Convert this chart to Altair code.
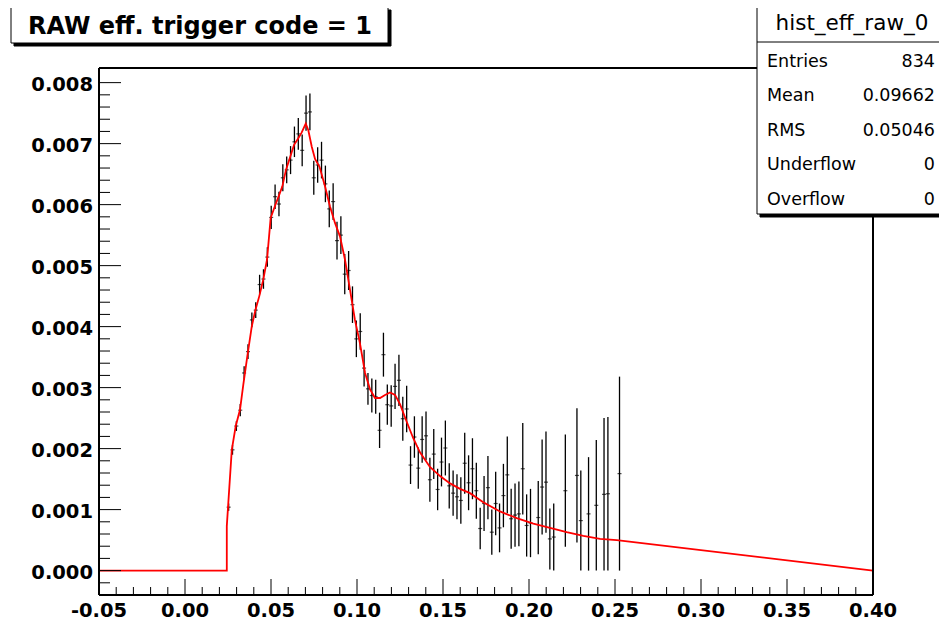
import altair as alt
import pandas as pd

# ---------------- data ----------------
bin_x = [0.025375, 0.027625, 0.029875, 0.032125, 0.034375, 0.036625, 0.038875, 0.041125,
         0.043375, 0.045625, 0.047875, 0.050125, 0.052375, 0.054625, 0.056875, 0.059125,
         0.061375, 0.063625, 0.065875, 0.068125, 0.070375, 0.072625, 0.074875, 0.077125,
         0.079375, 0.081625, 0.083875, 0.086125, 0.088375, 0.090625, 0.092875, 0.095125,
         0.097375, 0.099625, 0.101875, 0.104125, 0.106375, 0.108625, 0.110875, 0.113125,
         0.115375, 0.117625, 0.119875, 0.122125, 0.124375, 0.126625, 0.128875, 0.131125,
         0.133375, 0.135625, 0.137875, 0.140125, 0.142375, 0.144625, 0.146875, 0.149125,
         0.151375, 0.153625, 0.155875, 0.158125, 0.160375, 0.162625, 0.164875, 0.167125,
         0.169375, 0.171625, 0.173875, 0.176125, 0.178375, 0.180625, 0.182875, 0.185125,
         0.187375, 0.189625, 0.191875, 0.194125, 0.196375, 0.198625, 0.200875, 0.205375,
         0.207625, 0.209875, 0.212125, 0.214375, 0.221125, 0.227875, 0.230125, 0.234625,
         0.239125, 0.243625, 0.245875, 0.252625]
eff = [0.00104, 0.00198, 0.00237, 0.00263, 0.00324, 0.00359, 0.00411, 0.00427,
       0.00469, 0.00478, 0.00514, 0.00579, 0.00613, 0.00601, 0.00644, 0.00657,
       0.00673, 0.00703, 0.00716, 0.00689, 0.00750, 0.00752, 0.00644, 0.00665,
       0.00673, 0.00634, 0.00593, 0.00605, 0.00541, 0.00550, 0.00486, 0.00492,
       0.00436, 0.00380, 0.00392, 0.00332, 0.00298, 0.00287, 0.00285, 0.00230,
       0.00354, 0.00272, 0.00270, 0.00302, 0.00312, 0.00249, 0.00265, 0.00173,
       0.00219, 0.00168, 0.00215, 0.00221, 0.00149, 0.00191, 0.00133, 0.00178,
       0.00201, 0.00139, 0.00127, 0.00121, 0.00115, 0.00176, 0.00144, 0.00167,
       0.00131, 0.00069, 0.00110, 0.00136, 0.00063, 0.00110, 0.00070, 0.00123,
       0.00157, 0.00085, 0.00091, 0.00093, 0.00167, 0.00074, 0.00078, 0.00087,
       0.00137, 0.00145, 0.00052, 0.00055, 0.00131, 0.00156, 0.00082, 0.00093,
       0.00107, 0.00125, 0.00126, 0.00159]
err = [0.00006, 0.00008, 0.00008, 0.00010, 0.00011, 0.00012, 0.00012, 0.00013,
       0.00016, 0.00016, 0.00016, 0.00019, 0.00020, 0.00020, 0.00022, 0.00022,
       0.00023, 0.00025, 0.00026, 0.00026, 0.00029, 0.00030, 0.00028, 0.00029,
       0.00030, 0.00030, 0.00030, 0.00030, 0.00031, 0.00031, 0.00033, 0.00032,
       0.00030, 0.00030, 0.00030, 0.00030, 0.00026, 0.00028, 0.00028, 0.00029,
       0.00036, 0.00033, 0.00034, 0.00037, 0.00042, 0.00036, 0.00038, 0.00031,
       0.00034, 0.00034, 0.00038, 0.00040, 0.00036, 0.00041, 0.00034, 0.00040,
       0.00045, 0.00037, 0.00037, 0.00037, 0.00038, 0.00050, 0.00045, 0.00050,
       0.00046, 0.00034, 0.00045, 0.00052, 0.00037, 0.00052, 0.00040, 0.00052,
       0.00063, 0.00049, 0.00052, 0.00053, 0.00075, 0.00051, 0.00056, 0.00060,
       0.00078, 0.00083, 0.00050, 0.00055, 0.00092, 0.00110, 0.00082, 0.00093,
       0.00107, 0.00125, 0.00126, 0.00159]

fit_x = [-0.05, 0.0243, 0.0243, 0.0272, 0.0295, 0.0320, 0.0339, 0.0362, 0.0388, 0.0409,
         0.0432, 0.0455, 0.0477, 0.0498, 0.0522, 0.0545, 0.0566, 0.0587, 0.0610, 0.0634,
         0.0657, 0.0678, 0.0702, 0.0717, 0.0737, 0.0756, 0.0782, 0.0814, 0.0843, 0.0872,
         0.0901, 0.0930, 0.0959, 0.0988, 0.1017, 0.1047, 0.1076, 0.1105, 0.1134, 0.1163,
         0.1192, 0.1221, 0.1250, 0.1289, 0.1327, 0.1366, 0.1424, 0.1483, 0.1541, 0.1599,
         0.1657, 0.1734, 0.1831, 0.1929, 0.2025, 0.2122, 0.2219, 0.2316, 0.2413, 0.2510,
         0.40]
fit_y = [0.0, 0.0, 0.00073, 0.00198, 0.00237, 0.00264, 0.00305, 0.00351, 0.00400, 0.00427,
         0.00450, 0.00477, 0.00510, 0.00578, 0.00597, 0.00614, 0.00630, 0.00657, 0.00677, 0.00698,
         0.00708, 0.00718, 0.00733, 0.00722, 0.00695, 0.00675, 0.00662, 0.00630, 0.00597, 0.00570,
         0.00548, 0.00510, 0.00461, 0.00411, 0.00373, 0.00324, 0.00297, 0.00283, 0.00283, 0.00288,
         0.00292, 0.00288, 0.00273, 0.00244, 0.00217, 0.00194, 0.00170, 0.00155, 0.00143, 0.00134,
         0.00127, 0.00112, 0.00097, 0.00086, 0.00077, 0.00070, 0.00063, 0.00057, 0.00052, 0.00050,
         0.0]

x_major = [-0.05, 0.0, 0.05, 0.10, 0.15, 0.20, 0.25, 0.30, 0.35, 0.40]
x_labels = ["-0.05", "0.00", "0.05", "0.10", "0.15", "0.20", "0.25", "0.30", "0.35", "0.40"]
y_major = [0.0, 0.001, 0.002, 0.003, 0.004, 0.005, 0.006, 0.007, 0.008]
y_labels = ["0.000", "0.001", "0.002", "0.003", "0.004", "0.005", "0.006", "0.007", "0.008"]
x_minor = [round(-0.05 + 0.01 * k, 4) for k in range(46) if k % 5 != 0]
y_minor = [round(-0.0004 + 0.0002 * k, 5) for k in range(43) if (k - 2) % 5 != 0]

title_text = "RAW eff. trigger code = 1"
stats_title = "hist_eff_raw_0"
stats_names = ["Entries", "Mean", "RMS", "Underflow", "Overflow"]
stats_values = ["834", "0.09662", "0.05046", "0", "0"]

# ---------------- layout ----------------
W, H = 774, 527
XDOM = [-0.05, 0.40]
YDOM = [-0.0004, 0.00824]
FONT = "DejaVu Sans"

xs = alt.Scale(domain=XDOM, nice=False, zero=False)
ys = alt.Scale(domain=YDOM, nice=False, zero=False)

pts = pd.DataFrame({"x": bin_x, "v": eff, "e": err})
pts["lo"] = pts["v"] - pts["e"]
pts["hi"] = pts["v"] + pts["e"]
fit = pd.DataFrame({"x": fit_x, "y": fit_y, "i": list(range(len(fit_x)))})

X = lambda f: alt.X(f, type="quantitative", scale=xs, axis=None)
Y = lambda f: alt.Y(f, type="quantitative", scale=ys, axis=None)

bars = alt.Chart(pts).mark_rule(color="black", strokeWidth=1.3).encode(
    x=X("x"), y=Y("lo"), y2="hi")
ticks_h = alt.Chart(pts).mark_tick(orient="horizontal", size=4, thickness=1.2, color="black").encode(
    x=X("x"), y=Y("v"))
fitline = alt.Chart(fit).mark_line(color="#ff0000", strokeWidth=1.8).encode(
    x=X("x"), y=Y("y"), order="i:Q")

# axes (ROOT style, ticks inside)
xmaj = pd.DataFrame({"x": x_major, "lab": x_labels})
ymaj = pd.DataFrame({"y": y_major, "lab": y_labels})
xmin_df = pd.DataFrame({"x": x_minor})
ymin_df = pd.DataFrame({"y": y_minor})

xt_major = alt.Chart(xmaj).mark_rule(color="black", strokeWidth=1).encode(
    x=X("x"), y=alt.value(H), y2=alt.value(H - 16))
xt_minor = alt.Chart(xmin_df).mark_rule(color="black", strokeWidth=1).encode(
    x=X("x"), y=alt.value(H), y2=alt.value(H - 8))
yt_major = alt.Chart(ymaj).mark_rule(color="black", strokeWidth=1).encode(
    y=Y("y"), x=alt.value(0), x2=alt.value(22))
yt_minor = alt.Chart(ymin_df).mark_rule(color="black", strokeWidth=1).encode(
    y=Y("y"), x=alt.value(0), x2=alt.value(11))
xlab = alt.Chart(xmaj).mark_text(font=FONT, fontWeight="bold", fontSize=19.5, align="center",
                                 baseline="alphabetic", color="black").encode(
    x=X("x"), y=alt.value(H + 22), text="lab:N")
ylab = alt.Chart(ymaj).mark_text(font=FONT, fontWeight="bold", fontSize=19.5, align="right",
                                 baseline="alphabetic", dy=8, color="black").encode(
    y=Y("y"), x=alt.value(-6), text="lab:N")

one = pd.DataFrame({"k": [0]})
def frame_rule(x1, y1, x2, y2, w=2):
    return alt.Chart(one).mark_rule(color="black", strokeWidth=w).encode(
        x=alt.value(x1), y=alt.value(y1), x2=alt.value(x2), y2=alt.value(y2))

frame = [frame_rule(0, 0, W, 0), frame_rule(W, 0, W, H), frame_rule(0, H, W, H), frame_rule(0, 0, 0, H)]

def box(x1, y1, x2, y2, fill="white", stroke="black", sw=1):
    return alt.Chart(one).mark_rect(fill=fill, stroke=stroke, strokeWidth=sw).encode(
        x=alt.value(x1), y=alt.value(y1), x2=alt.value(x2), y2=alt.value(y2))

def label(text, x, y, size, align="left", weight="normal"):
    return alt.Chart(one).mark_text(text=text, font=FONT, fontSize=size, fontWeight=weight,
                                    align=align, baseline="alphabetic", color="black").encode(
        x=alt.value(x), y=alt.value(y))

# title box (with shadow)
title_layers = [
    box(-85, -58, 292, -22, fill="black", stroke="black"),
    box(-88, -61, 289, -25),
    label(title_text, 101, -34, 24, align="center", weight="bold"),
]

# stats box
stats_layers = [
    box(661, -59, 900, 149, fill="black", stroke="black"),
    box(658, -62, 900, 146),
    frame_rule(658, -26, 900, -26, w=1),
    label(stats_title, 753, -38, 21.5, align="center"),
]
row_base = [-1.5, 33, 67.5, 102, 136.5]
for nm, val, yb in zip(stats_names, stats_values, row_base):
    stats_layers.append(label(nm, 668, yb, 17.5))
    stats_layers.append(label(val, 836, yb, 17.5, align="right"))

chart = alt.layer(
    bars, ticks_h, fitline,
    xt_major, xt_minor, yt_major, yt_minor, xlab, ylab,
    *frame, *title_layers, *stats_layers
).properties(
    width=W, height=H,
    padding={"left": 91, "top": 60, "right": 66, "bottom": 28},
    autosize=alt.AutoSizeParams(type="none"),
    background="white",
).configure_view(stroke="transparent")

chart.save("out.html", embed_options={"renderer": "svg", "actions": False})
